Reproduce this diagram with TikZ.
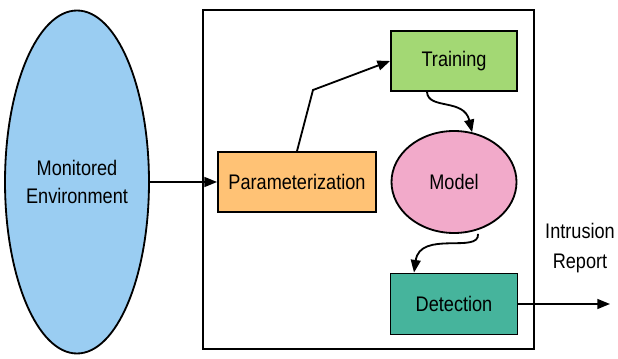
\documentclass[tikz,border=0pt]{standalone}
\usepackage{fontspec}
\setmainfont{Liberation Sans}[FakeStretch=0.86]
\usepackage{tikz}
\usetikzlibrary{arrows.meta,shapes.geometric}

\definecolor{envblue}{HTML}{9ACDF2}
\definecolor{paramorange}{HTML}{FFC275}
\definecolor{traingreen}{HTML}{A3D874}
\definecolor{modelpink}{HTML}{F2AACA}
\definecolor{detectteal}{HTML}{46B49C}

\tikzset{
  blockbox/.style={draw, line width=1.3pt, minimum height=1.5cm, font=\fontsize{15}{20}\selectfont},
  flowarrow/.style={line width=1.3pt, -{Triangle[length=9pt,width=7pt]}}
}

\begin{document}
\begin{tikzpicture}

\useasboundingbox (0,0) rectangle (15.45,8.95);

% outer frame
\draw[line width=1.3pt] (5.075,0.225) rectangle (13.35,8.7);

% environment
\node[draw, line width=1.3pt, ellipse, fill=envblue, minimum width=3.175cm, minimum height=8.575cm,
  align=center, font=\fontsize{15}{20}\selectfont, inner sep=0pt] (env) at (1.925,4.4) {Monitored\\Environment};

\node[blockbox, fill=paramorange, minimum width=3.95cm] (param) at (7.425,4.4) {Parameterization};
\node[blockbox, fill=traingreen, minimum width=3.15cm] (train) at (11.35,7.425) {Training};
\node[draw, line width=1.3pt, ellipse, fill=modelpink, minimum width=3.125cm, minimum height=2.55cm,
  inner sep=0pt, font=\fontsize{15}{20}\selectfont] (model) at (11.35,4.4) {Model};
\node[blockbox, fill=detectteal, minimum width=3.175cm, minimum height=1.525cm] (detect) at (11.35,1.35) {Detection};

\node[align=center, font=\fontsize{15}{21}\selectfont] (report) at (14.5,2.75) {Intrusion\\Report};
\coordinate (out) at (15.25,1.35);
\coordinate (bend) at (7.825,6.7);

% arrows
\draw[flowarrow] (env) -- (param);
\draw[flowarrow] (param.north) -- (bend) -- (train.west);
\draw[flowarrow] ([xshift=-0.675cm]train.south) .. controls (10.7,6.2) and (11.6,6.5) .. (model.70);
\draw[flowarrow] ([xshift=0.6cm]model.south) .. controls (12.0,2.6) and (10.5,3.2) .. ([xshift=-1.0cm]detect.north);
\draw[flowarrow] (detect) -- (out);

\end{tikzpicture}
\end{document}
